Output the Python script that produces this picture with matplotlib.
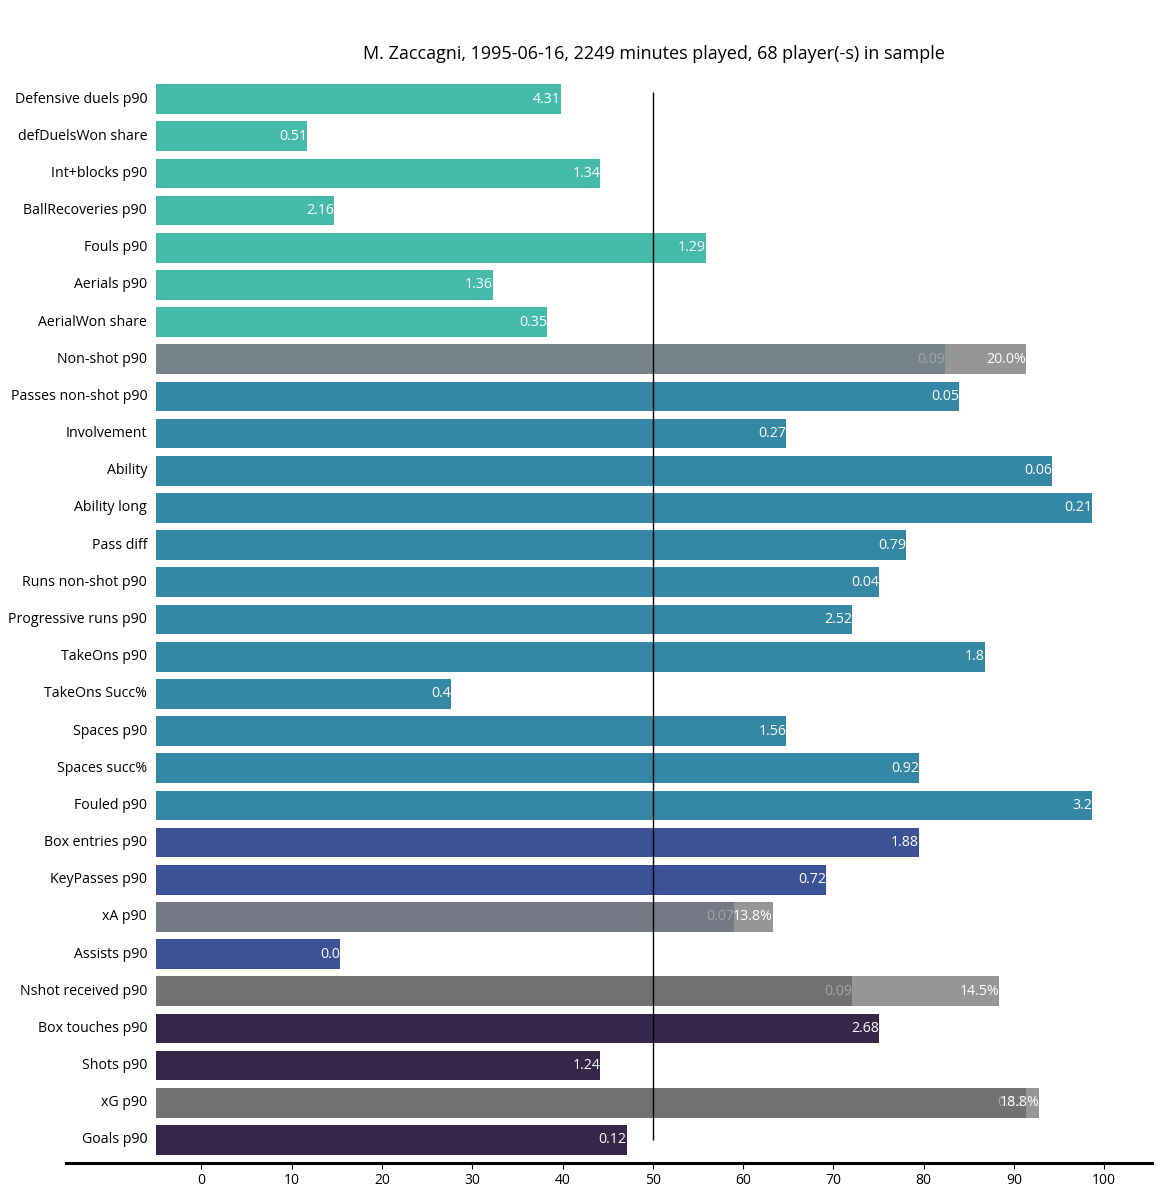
import numpy as np
import matplotlib.pyplot as plt

plt.rcParams['font.family'] = ['Open Sans', 'DejaVu Sans']

title = "M. Zaccagni, 1995-06-16, 2249 minutes played, 68 player(-s) in sample"

metrics = ["Defensive duels p90", "defDuelsWon share", "Int+blocks p90", "BallRecoveries p90",
           "Fouls p90", "Aerials p90", "AerialWon share", "Non-shot p90", "Passes non-shot p90",
           "Involvement", "Ability", "Ability long", "Pass diff", "Runs non-shot p90",
           "Progressive runs p90", "TakeOns p90", "TakeOns Succ%", "Spaces p90", "Spaces succ%",
           "Fouled p90", "Box entries p90", "KeyPasses p90", "xA p90", "Assists p90",
           "Nshot received p90", "Box touches p90", "Shots p90", "xG p90", "Goals p90"]

# percentile rank (end of main bar)
pct = [39.8, 11.7, 44.2, 14.7, 55.9, 32.3, 38.3, 82.4, 83.9, 64.8, 94.2, 98.7, 78.1, 75.1,
       72.1, 86.8, 27.7, 64.8, 79.5, 98.7, 79.5, 69.2, 59.0, 15.4, 72.1, 75.1, 44.2, 91.3, 47.1]

values = ["4.31", "0.51", "1.34", "2.16", "1.29", "1.36", "0.35", "0.09", "0.05", "0.27", "0.06",
          "0.21", "0.79", "0.04", "2.52", "1.8", "0.4", "1.56", "0.92", "3.2", "1.88", "0.72",
          "0.07", "0.0", "0.09", "2.68", "1.24", "0.12", "0.12"]

groups = ["def"] * 7 + ["sum1"] + ["pass"] * 12 + ["create"] * 2 + ["sum2"] + ["create"] + \
         ["sum3", "shot", "shot", "sum3", "shot"]

# light grey extension on the summary rows
extra_end = {7: 91.3, 22: 63.3, 24: 88.4, 27: 92.8}
extra_text = {7: "20.0%", 22: "13.8%", 24: "14.5%", 27: "18.8%"}

colors = {"def": "#45bbaa", "pass": "#3588a5", "create": "#3b5296", "shot": "#35264a",
          "sum1": "#75848a", "sum2": "#757985", "sum3": "#737074"}

fig = plt.figure(figsize=(11.61, 11.98), dpi=100)
ax = fig.add_axes([66 / 1161, 35 / 1198, 1086 / 1161, 1087 / 1198])

left = -5
y = np.arange(len(metrics))
bar_colors = [colors[g] for g in groups]
ax.barh(y, np.array(pct) - left, left=left, height=0.8, color=bar_colors)

for i in range(len(metrics)):
    ax.text(left - 1, i, metrics[i], ha="right", va="center", fontsize=10.2)
    col = "#a3a3a3" if i in extra_end else "white"
    ax.text(pct[i], i, values[i], ha="right", va="center", color=col, fontsize=10.2,
            zorder=3)

for idx in extra_end:
    ax.barh(idx, extra_end[idx] - pct[idx], left=pct[idx], height=0.8,
            color="#969696", zorder=4)
    ax.text(extra_end[idx], idx, extra_text[idx], ha="right", va="center",
            color="white", fontsize=10.2, zorder=5)

ax.vlines(50, -0.2, len(metrics) - 1, color="black", linewidth=1, zorder=6)

ax.set_xlim(-15, 105.3)
ax.set_ylim(len(metrics) - 0.38, -0.62)
ax.set_xticks(range(0, 101, 10))
ax.set_yticks([])
for s in ["top", "right", "left"]:
    ax.spines[s].set_visible(False)
ax.spines["bottom"].set_linewidth(2.2)
ax.tick_params(axis="x", labelsize=10, length=4, width=0.8)

fig.text(654 / 1161, 1 - 54 / 1198, title, ha="center", va="center", fontsize=13)

fig.savefig("out.png", dpi=100)
